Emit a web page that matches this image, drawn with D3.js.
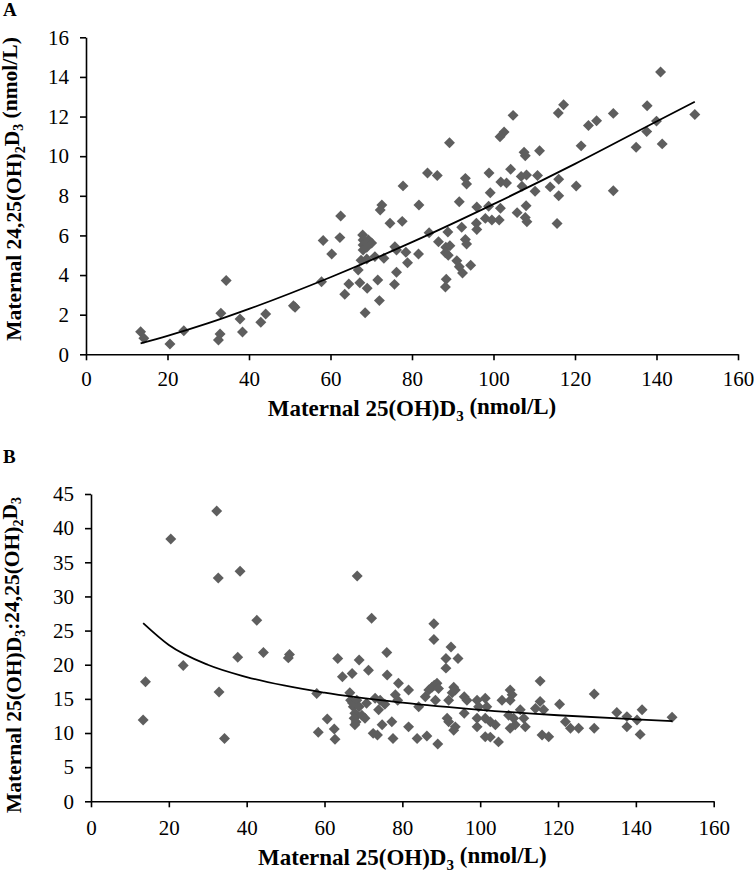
<!DOCTYPE html>
<html>
<head>
<meta charset="utf-8">
<script src="https://cdn.jsdelivr.net/npm/d3@7"></script>
<style>
  html, body { margin: 0; padding: 0; background: #fff; }
  svg { display: block; }
</style>
</head>
<body>
<svg id="chart" width="754" height="873"></svg>
<script>
// ---------------- DATA ----------------
const xTicks = [0, 20, 40, 60, 80, 100, 120, 140, 160];
const yTicksA = [0, 2, 4, 6, 8, 10, 12, 14, 16];
const yTicksB = [0, 5, 10, 15, 20, 25, 30, 35, 40, 45];

// Panel A: maternal 25(OH)D3 vs 24,25(OH)2D3
const pointsA = [
[13.4,1.14],[14.2,0.81],[20.6,0.52],[24.0,1.19],[32.5,0.72],[32.9,1.02],[33.1,2.07],[34.4,3.72],[37.8,1.78],[38.4,1.13],[42.9,1.62],[44.1,2.03],[50.9,2.45],[51.3,2.37],
[57.8,3.66],[58.2,5.74],[60.3,5.06],[62.5,6.98],[62.3,5.89],[63.5,3.03],[64.5,3.55],[67.2,3.61],[66.8,4.26],[68.5,2.1],[69.0,3.33],
[67.9,6.02],[68.0,5.77],[69.3,5.77],[70.1,5.62],[68.0,5.52],[68.9,5.4],[68.0,5.26],[67.5,4.75],[68.9,4.81],[70.9,4.93],[73.1,4.85],[71.6,3.75],[72.0,2.71],
[72.6,7.54],[72.2,7.28],[74.6,6.61],[75.8,5.43],[76.2,5.26],[76.2,4.14],[75.7,3.53],
[77.6,6.71],[77.8,8.5],[78.5,5.15],[78.9,4.62],[81.6,5.06],[81.7,7.54],[83.8,9.15],[84.2,6.14],[86.2,9.02],[86.5,5.68],[88.3,5.4],[89.3,5.48],[88.2,5.13],[88.9,5.0],[88.8,6.17],
[89.2,10.68],[91.6,7.7],[92.2,6.41],[93.1,5.8],[93.4,5.57],[93.1,8.88],[93.4,8.6],[91.0,4.72],[91.6,4.42],[92.4,4.1],[94.4,4.49],[88.4,3.79],[88.2,3.4],
[95.9,7.43],[95.8,6.61],[95.9,6.3],[98.0,6.86],[98.8,7.47],[98.9,9.15],[99.2,8.15],[99.6,6.78],[101.4,6.78],[101.7,7.37],[101.8,8.7],[103.2,8.65],[104.2,9.34],[102.6,11.22],[101.6,10.98],[104.8,12.06],[105.8,7.15],
[106.8,8.98],[107.0,8.48],[107.5,10.2],[107.8,10.02],[108.0,7.5],[107.8,6.9],[108.2,6.69],[108.1,9.05],[110.2,8.23],[110.8,9.02],[111.3,10.27],[113.9,8.45],[115.6,6.6],[116.0,8.0],[116.0,8.84],[115.9,12.18],[117.2,12.6],[120.3,8.49],[121.5,10.52],[123.3,11.55],[125.3,11.79],[129.4,12.16],[129.4,8.25],[135.0,10.45],[137.6,11.24],[137.7,12.55],[140.0,11.77],[141.0,14.25],[141.4,10.62],[149.4,12.1]
];
// Trend line
const trendAx = [13.4, 20, 30, 40, 60, 80, 100, 120, 140, 149.4];
const trendAy = [0.55, 0.93, 1.57, 2.29, 3.89, 5.66, 7.58, 9.61, 11.75, 12.75];

// Panel B: maternal 25(OH)D3 vs ratio 25(OH)D3:24,25(OH)2D3
const pointsB = [
[13.4,11.9],[14.0,17.5],[20.5,38.4],[23.7,19.9],[32.3,42.5],[32.7,32.7],[32.9,16.0],[34.3,9.2],[37.7,21.1],[38.3,33.7],[42.6,26.5],[44.3,21.8],[50.7,21.0],[51.0,21.5],
[58.0,15.8],[58.4,10.1],[60.7,12.05],[62.5,10.6],[62.7,9.1],[63.4,20.9],[64.6,18.25],[66.5,15.9],[67.1,18.7],[68.4,33.0],[68.9,20.7],[71.3,19.2],[72.1,26.8],
[66.7,14.8],[67.2,14.4],[68.3,14.8],[67.4,13.85],[68.9,13.85],[67.8,12.9],[68.3,12.6],[69.6,12.6],[67.6,12.15],[70.4,12.15],[67.8,11.2],[68.1,11.6],[70.8,14.35],
[72.5,9.95],[73.6,9.7],[73.0,15.1],[74.3,14.8],[73.9,13.4],[74.8,11.2],[75.5,14.2],[76.0,21.8],[76.1,18.5],[77.3,11.65],[77.6,9.2],[78.2,15.6],[78.8,14.8],[79.0,17.3],[81.6,16.3],[81.6,10.9],[83.8,9.2],[84.2,13.85],[86.3,9.55],
[85.9,15.3],[86.8,16.3],[87.6,16.7],[88.2,17.0],[88.9,17.3],[89.3,16.5],[88.5,14.8],[88.1,26.0],[88.1,23.7],[89.1,8.4],
[91.2,20.9],[91.2,19.5],[94.3,20.9],[92.5,22.6],[91.9,14.8],[93.2,16.7],[93.6,16.3],[92.8,15.9],[91.5,12.15],[91.9,11.65],[93.6,10.9],[93.2,10.4],
[95.9,15.3],[96.6,14.8],[99.2,14.8],[99.6,13.85],[101.3,15.1],[101.7,13.85],[95.9,12.9],[99.2,12.15],[99.2,10.9],[101.3,12.15],[102.6,11.65],[103.9,11.2],[101.3,9.45],[102.6,9.4],[104.7,8.7],
[105.6,14.8],[107.7,16.3],[108.2,15.6],[107.7,14.8],[107.3,12.6],[108.6,12.15],[107.7,10.7],[109.0,11.2],[110.3,13.4],[111.2,12.15],[111.6,10.9],
[114.2,13.6],[115.4,14.6],[116.3,13.4],[115.4,17.6],[115.9,9.7],[117.6,9.45],[120.4,14.2],[121.9,11.65],[123.2,10.7],[125.3,10.7],[129.3,10.7],[129.3,15.7],
[135.1,13.0],[137.7,12.4],[140.3,11.9],[141.6,13.4],[137.7,10.9],[141.1,9.8],[149.3,12.3]
];
const trendBx = [13.4, 20, 30, 40, 60, 80, 100, 120, 140, 149.4];
const trendBy = [26.1, 22.9, 20.0, 18.2, 15.9, 14.45, 13.4, 12.6, 12.0, 11.75];

// ---------------- DRAW ----------------
const FONT = "'Liberation Serif','Times New Roman',Times,serif";
const svg = d3.select("#chart");
const markerColor = "#5e5e5e";

function richText(sel, parts, subSize) {
  let prevSub = false;
  parts.forEach(([t, sub]) => {
    const ts = sel.append("tspan").text(t);
    if (sub && !prevSub) ts.attr("dy", "0.3em").attr("font-size", subSize);
    else if (sub) ts.attr("font-size", subSize);
    else if (!sub && prevSub) ts.attr("dy", "-0.3em");
    prevSub = sub;
  });
}

function panel(cfg) {
  const x = d3.scaleLinear().domain([0, 160]).range([cfg.x0, cfg.x1]);
  const y = d3.scaleLinear().domain([0, cfg.ymax]).range([cfg.y0, cfg.y1]);
  const g = svg.append("g");

  const xAxis = d3.axisBottom(x).tickValues(xTicks).tickSize(6).tickSizeOuter(0).tickPadding(cfg.xPad);
  const yAxis = d3.axisLeft(y).tickValues(cfg.yTicks).tickSize(6).tickSizeOuter(0).tickPadding(11);

  const gx = g.append("g").attr("transform", `translate(0,${cfg.y0})`).call(xAxis);
  const gy = g.append("g").attr("transform", `translate(${cfg.x0},0)`).call(yAxis);
  [gx, gy].forEach(a => {
    a.selectAll("path.domain").attr("stroke", "#000").attr("stroke-width", 1.6);
    a.selectAll(".tick line").attr("stroke", "#000").attr("stroke-width", 1.6);
    a.selectAll(".tick text").attr("font-family", FONT).attr("font-size", 21).attr("fill", "#000");
  });

  const sym = d3.symbol().type(d3.symbolSquare).size(60);
  g.append("g").selectAll("path").data(cfg.points).join("path")
    .attr("d", sym)
    .attr("transform", d => `translate(${x(d[0])},${y(d[1])}) rotate(45)`)
    .attr("fill", markerColor);

  const tr = cfg.tx.map((v, i) => [v, cfg.ty[i]]);
  g.append("path").datum(tr)
    .attr("d", d3.line().x(d => x(d[0])).y(d => y(d[1])).curve(d3.curveMonotoneX))
    .attr("fill", "none").attr("stroke", "#000").attr("stroke-width", 1.8);

  const xt = g.append("text")
    .attr("x", (cfg.x0 + cfg.x1) / 2).attr("y", cfg.xTitleY)
    .attr("text-anchor", "middle").attr("font-family", FONT)
    .attr("font-weight", "bold").attr("font-size", 23);
  richText(xt, [["Maternal 25(OH)D", false], ["3", true], [" (nmol/L)", false]], 15);

  const yt = g.append("text")
    .attr("transform", `translate(${cfg.yTitleX},${cfg.yTitleC}) rotate(-90)`)
    .attr("text-anchor", "middle").attr("font-family", FONT)
    .attr("font-weight", "bold").attr("font-size", 21.5);
  richText(yt, cfg.yTitle, 14);

  g.append("text").attr("x", 3).attr("y", cfg.letterY)
    .attr("font-family", FONT).attr("font-weight", "bold").attr("font-size", 19)
    .text(cfg.letter);
}

panel({
  x0: 86, x1: 738, y0: 354.3, y1: 37.3, ymax: 16, yTicks: yTicksA,
  points: pointsA, tx: trendAx, ty: trendAy, xPad: 11,
  xTitleY: 416, yTitleX: 21, yTitleC: 189,
  yTitle: [["Maternal 24,25(OH)", false], ["2", true], ["D", false], ["3", true], [" (nmol/L)", false]],
  letter: "A", letterY: 16
});

panel({
  x0: 91, x1: 713.7, y0: 801.3, y1: 494, ymax: 45, yTicks: yTicksB,
  points: pointsB, tx: trendBx, ty: trendBy, xPad: 13,
  xTitleY: 865, yTitleX: 21, yTitleC: 655,
  yTitle: [["Maternal 25(OH)D", false], ["3", true], [":24,25(OH)", false], ["2", true], ["D", false], ["3", true]],
  letter: "B", letterY: 463
});
</script>
</body>
</html>
